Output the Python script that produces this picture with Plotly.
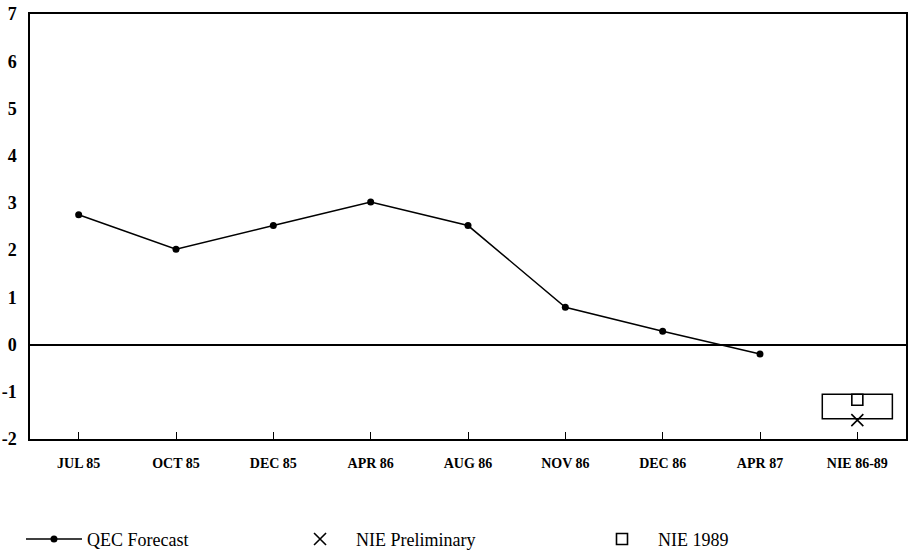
import plotly.graph_objects as go

# forecasts
periods = ["JUL 85", "OCT 85", "DEC 85", "APR 86", "AUG 86",
           "NOV 86", "DEC 86", "APR 87", "NIE 86-89"]
qec_periods = periods[:8]
qec_forecast = [2.75, 2.02, 2.52, 3.02, 2.52, 0.79, 0.28, -0.2]
nie_label = ["NIE 86-89"]
nie_preliminary = [-1.6]
nie_1989 = [-1.17]
nie_range_low = -1.57
nie_range_high = -1.05
y_ticks = [-2, -1, 0, 1, 2, 3, 4, 5, 6, 7]

serif = "Liberation Serif, Times New Roman, serif"

fig = go.Figure()

fig.add_trace(go.Scatter(
    x=qec_periods, y=qec_forecast, mode="lines+markers",
    name="QEC Forecast",
    line=dict(color="black", width=1.5),
    marker=dict(color="black", size=7),
    legend="legend",
))
fig.add_trace(go.Scatter(
    x=nie_label, y=nie_preliminary, mode="markers",
    name="NIE Preliminary",
    marker=dict(symbol="x-thin-open", size=12, color="black",
                line=dict(color="black", width=1.6)),
    legend="legend2",
))
fig.add_trace(go.Scatter(
    x=nie_label, y=nie_1989, mode="markers",
    name="NIE 1989",
    marker=dict(symbol="square-open", size=11, color="black",
                line=dict(color="black", width=1.6)),
    legend="legend3",
))

# range box round the NIE estimates
idx = periods.index("NIE 86-89")
fig.add_shape(type="rect", xref="x", yref="y",
              x0=idx - 0.36, x1=idx + 0.36,
              y0=nie_range_low, y1=nie_range_high,
              line=dict(color="black", width=1.5), layer="below")

leg = dict(orientation="h", yanchor="middle", y=-0.236, xanchor="left",
           bgcolor="rgba(0,0,0,0)", font=dict(family=serif, size=18, color="black"))

fig.update_layout(
    width=908, height=560,
    margin=dict(l=30, r=2, t=14, b=116),
    paper_bgcolor="white", plot_bgcolor="white",
    font=dict(family=serif, color="black"),
    showlegend=True,
    legend=dict(leg, x=-0.0103, itemwidth=56),
    legend2=dict(leg, x=0.290, itemwidth=62),
    legend3=dict(leg, x=0.6347, itemwidth=62),
)
fig.update_xaxes(
    type="category", categoryorder="array", categoryarray=periods,
    range=[-0.5, 8.5], automargin=False,
    showline=True, mirror=True, linecolor="black", linewidth=1.5,
    ticks="inside", ticklen=7, tickcolor="black", tickwidth=1.2,
    tickfont=dict(family=serif, size=14, color="black", weight="bold"),
    ticklabelstandoff=10,
    showgrid=False,
)
fig.update_yaxes(
    range=[-2, 7], automargin=False,
    tickvals=y_ticks, ticktext=[str(v) for v in y_ticks],
    showline=True, mirror=True, linecolor="black", linewidth=1.5,
    zeroline=True, zerolinecolor="black", zerolinewidth=1.5,
    ticks="", showgrid=False,
    tickfont=dict(family=serif, size=18, color="black", weight="bold"),
    ticklabelstandoff=8,
)

# drop the default body margin so the figure sits in the window corner
fig.write_html("out.html", config={"displayModeBar": False},
               post_script="document.body.style.margin='0px';")
